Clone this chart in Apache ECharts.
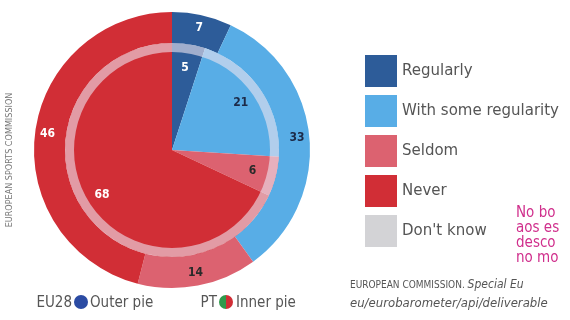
<!DOCTYPE html>
<html>
<head>
<meta charset="utf-8">
<script src="https://cdn.jsdelivr.net/npm/echarts@6/dist/echarts.min.js"></script>
<style>
html,body{margin:0;padding:0;background:#fff;}
#c{width:570px;height:320px;}
</style>
</head>
<body>
<div id="c"></div>
<script>
// ---- data ----
const categories = ['Regularly', 'With some regularity', 'Seldom', 'Never', "Don't know"];
const outerEU28 = [7, 33, 14, 46, 0];
const innerPT = [5, 21, 6, 68, 0];
const sideNoteLines = ['No bo', 'aos es', 'desco', 'no mo'];
const sourceLine1 = 'EUROPEAN COMMISSION. ';
const sourceLine1b = 'Special Eu';
const sourceLine2 = 'eu/eurobarometer/api/deliverable';
const verticalCredit = 'EUROPEAN SPORTS COMMISSION';

// ---- styles ----
const colors = ['#2d5c99', '#58ade6', '#dc6270', '#d12e36', '#d3d3d6'];
const labelColors = ['#ffffff', '#1c2a48', '#2a2a2a', '#ffffff', '#2a2a2a'];
const cx = 172, cy = 150;
const font = '"DejaVu Sans Condensed", "DejaVu Sans", sans-serif';
const font2 = '"DejaVu Sans", sans-serif';

function build(values) {
  return categories.map((c, i) => ({
    name: c,
    value: values[i],
    itemStyle: { color: colors[i] },
    label: { color: labelColors[i] }
  }));
}
const labelFmt = p => (p.value > 0 ? String(p.value) : '');

const chart = echarts.init(document.getElementById('c'), null, { renderer: 'canvas' });
chart.setOption({
  animation: false,
  legend: {
    orient: 'vertical',
    left: 360, top: 50,
    icon: 'rect',
    itemWidth: 32, itemHeight: 32, itemGap: 8,
    selectedMode: false,
    data: categories,
    textStyle: { fontSize: 15, color: '#555', fontFamily: font2 }
  },
  series: [
    {
      name: 'EU28', type: 'pie', center: [cx, cy], radius: [107, 138],
      startAngle: 90, clockwise: true, silent: true,
      label: { position: 'inside', formatter: labelFmt, fontSize: 12, fontWeight: 'bold', fontFamily: font },
      labelLine: { show: false },
      data: build(outerEU28)
    },
    {
      name: 'PT', type: 'pie', center: [cx, cy], radius: [0, 107],
      startAngle: 90, clockwise: true, silent: true,
      label: { show: false }, labelLine: { show: false },
      data: build(innerPT)
    },
    {
      name: 'band', type: 'pie', center: [cx, cy], radius: [98, 107],
      silent: true, label: { show: false }, labelLine: { show: false },
      data: [{ name: 'band', value: 1, itemStyle: { color: 'rgba(236,228,240,0.6)' } }]
    },
    {
      name: 'PT labels', type: 'pie', center: [cx, cy], radius: [56, 104],
      startAngle: 90, clockwise: true, silent: true,
      itemStyle: { color: 'rgba(0,0,0,0)' },
      label: { position: 'inside', formatter: labelFmt, fontSize: 12, fontWeight: 'bold', fontFamily: font },
      labelLine: { show: false },
      data: categories.map((c, i) => ({ name: c, value: innerPT[i], itemStyle: { color: 'rgba(0,0,0,0)' }, label: { color: labelColors[i] } }))
    }
  ],
  graphic: [
    {
      type: 'text', x: 10, y: 160, rotation: Math.PI / 2,
      style: { text: verticalCredit, fontSize: 9, fill: '#777', fontFamily: font, align: 'center', verticalAlign: 'middle' }
    },
    // bottom-left key
    { type: 'text', x: 72, y: 303, style: { text: 'EU28', fontSize: 15, fill: '#555', fontFamily: font, align: 'right', verticalAlign: 'middle' } },
    { type: 'circle', shape: { cx: 81, cy: 302, r: 7 }, style: { fill: '#2b4ba3' } },
    { type: 'text', x: 90, y: 303, style: { text: 'Outer pie', fontSize: 15, fill: '#555', fontFamily: font, verticalAlign: 'middle' } },
    { type: 'text', x: 217, y: 303, style: { text: 'PT', fontSize: 15, fill: '#555', fontFamily: font, align: 'right', verticalAlign: 'middle' } },
    { type: 'sector', shape: { cx: 226, cy: 302, r: 7, startAngle: Math.PI / 2, endAngle: Math.PI * 1.5, clockwise: true }, style: { fill: '#2f9a4c' } },
    { type: 'sector', shape: { cx: 226, cy: 302, r: 7, startAngle: -Math.PI / 2, endAngle: Math.PI / 2, clockwise: true }, style: { fill: '#d12e36' } },
    { type: 'text', x: 236, y: 303, style: { text: 'Inner pie', fontSize: 15, fill: '#555', fontFamily: font, verticalAlign: 'middle' } },
    // side note (magenta)
    ...sideNoteLines.map((t, i) => ({
      type: 'text', x: 516, y: 213 + i * 15,
      style: { text: t, fontSize: 15, fill: '#d02f8c', fontFamily: font, verticalAlign: 'middle' }
    })),
    // source
    {
      type: 'text', x: 350, y: 285,
      style: {
        text: '{a|' + sourceLine1 + '}{b|' + sourceLine1b + '}',
        verticalAlign: 'middle',
        rich: {
          a: { fontSize: 10, fill: '#555', fontFamily: font },
          b: { fontSize: 12, fill: '#555', fontFamily: font, fontStyle: 'italic' }
        }
      }
    },
    { type: 'text', x: 350, y: 304, style: { text: sourceLine2, fontSize: 13, fill: '#555', fontFamily: font, fontStyle: 'italic', verticalAlign: 'middle' } }
  ]
});
</script>
</body>
</html>
